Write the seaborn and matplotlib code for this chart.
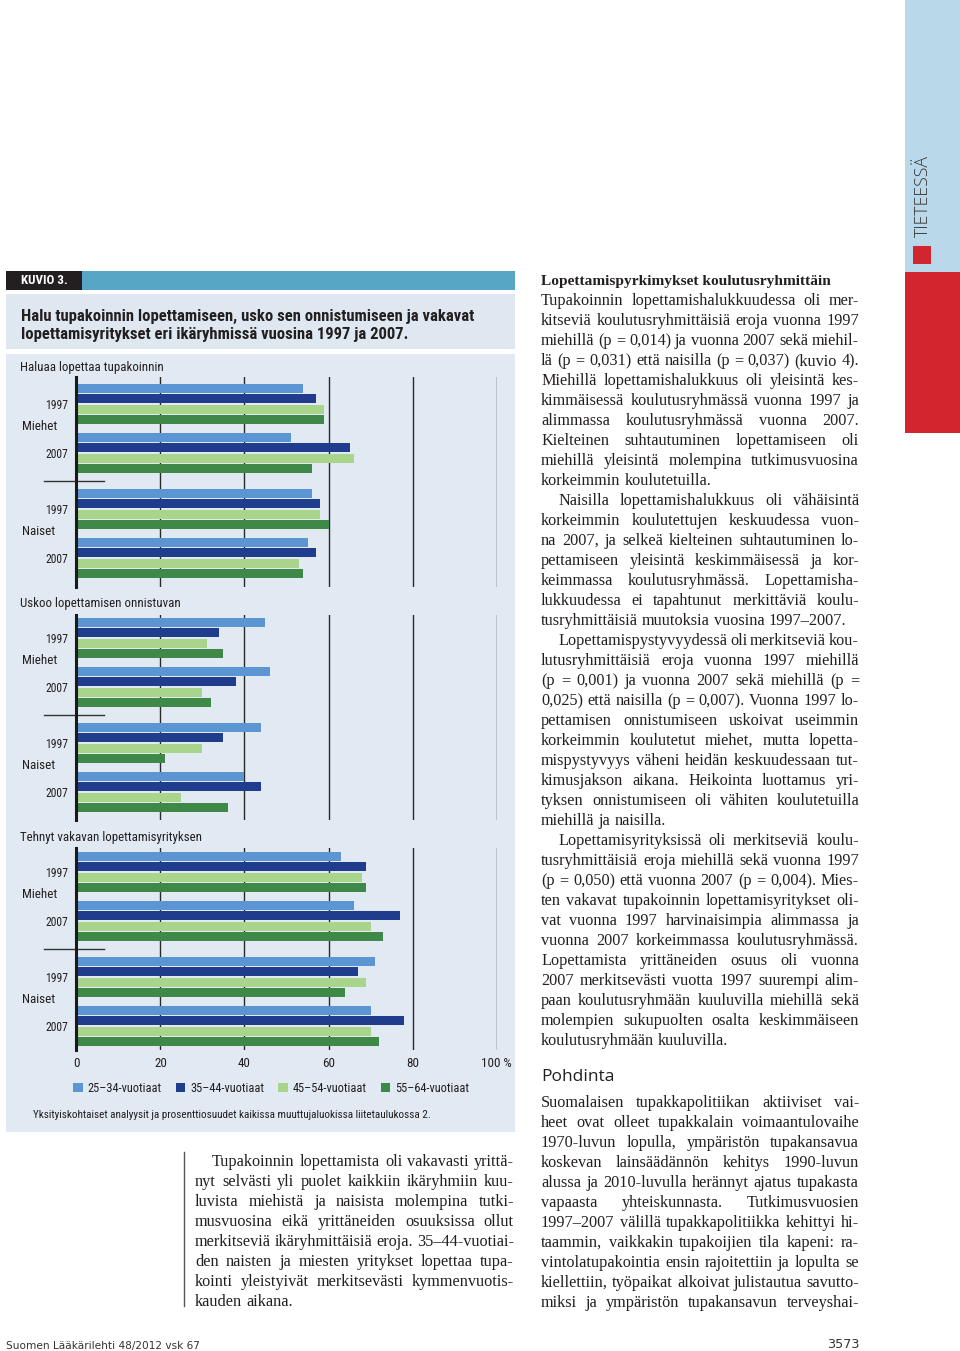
import numpy as np
import pandas as pd
import seaborn as sns
import matplotlib
matplotlib.use('Agg')
import matplotlib.pyplot as plt
from matplotlib.patches import Rectangle
from matplotlib import font_manager

# ---- data (percent) ----
age_groups = ['25–34-vuotiaat', '35–44-vuotiaat', '45–54-vuotiaat', '55–64-vuotiaat']
sexes = ['Miehet', 'Miehet', 'Naiset', 'Naiset']
years = ['1997', '2007', '1997', '2007']
panel_titles = ['Haluaa lopettaa tupakoinnin', 'Uskoo lopettamisen onnistuvan',
                'Tehnyt vakavan lopettamisyrityksen']
# rows: Miehet 1997, Miehet 2007, Naiset 1997, Naiset 2007 ; columns: age groups
haluaa = [[54, 57, 59, 59],
          [51, 65, 66, 56],
          [56, 58, 58, 60],
          [55, 57, 53, 54]]
uskoo = [[45, 34, 31, 35],
         [46, 38, 30, 32],
         [44, 35, 30, 21],
         [40, 44, 25, 36]]
yrittanyt = [[63, 69, 68, 69],
             [66, 77, 70, 73],
             [71, 67, 69, 64],
             [70, 78, 70, 72]]
x_ticks = [0, 20, 40, 60, 80, 100]
x_ticklabels = ['0', '20', '40', '60', '80', '100 %']

colors = ['#5b96d2', '#1f3d8c', '#a9d48c', '#3e8947']

W, H = 960, 1351
TXT = '#231f20'
SERIF = 'Liberation Serif'

# pick the narrowest sans that is installed
ttf = font_manager.fontManager.ttflist


def has(name, stretch=None):
    return any(f.name == name and (stretch is None or 'condensed' in str(f.stretch)) for f in ttf)


if has('Liberation Sans Narrow'):
    COND, STRETCH = 'Liberation Sans Narrow', 'normal'
elif has('Roboto Condensed'):
    COND, STRETCH = 'Roboto Condensed', 'normal'
elif has('Roboto', 'condensed'):
    COND, STRETCH = 'Roboto', 'condensed'
elif has('DejaVu Sans', 'condensed'):
    COND, STRETCH = 'DejaVu Sans', 'condensed'
else:
    COND, STRETCH = 'Lato', 'normal'

plt.rcParams['font.family'] = [COND, 'DejaVu Sans']
plt.rcParams['font.stretch'] = STRETCH
CK = dict(family=[COND, 'DejaVu Sans'], fontstretch=STRETCH)
SK = dict(family=[SERIF, 'DejaVu Serif'], fontstretch='normal')

fig = plt.figure(figsize=(W / 100, H / 100), dpi=100)
fig.patch.set_facecolor('white')
renderer = fig.canvas.get_renderer()


def fx(x):
    return x / W


def fy(y):
    return 1 - y / H


def fit(text, target, **kw):
    # font size (pt) that makes text about target px wide
    t = fig.text(0, 0, text, fontsize=10, **kw)
    w = t.get_window_extent(renderer).width
    t.remove()
    return 10 * target / w


def box(x0, y0, x1, y1, color):
    fig.add_artist(Rectangle((fx(x0), fy(y1)), (x1 - x0) / W, (y1 - y0) / H,
                             transform=fig.transFigure, color=color, lw=0, zorder=0))


S_title = fit('Halu tupakoinnin lopettamiseen, usko sen onnistumiseen ja vakavat', 451,
              fontweight='bold', **CK)
S_kuvio = fit('KUVIO 3.', 47, fontweight='bold', **CK)
S_lab = fit('Haluaa lopettaa tupakoinnin', 143, **CK)
S_year = fit('1997', 23, **CK)
S_sex = fit('Miehet', 35, **CK)
S_tick = fit('100 %', 30, **CK)
S_leg = fit('25–34-vuotiaat', 74, **CK)
footnote = 'Yksityiskohtaiset analyysit ja prosenttiosuudet kaikissa muuttujaluokissa liitetaulukossa 2.'
S_note = fit(footnote, 393, **CK)
S_body = fit('korkeimmin koulutetuilla.', 170, **SK)
S_head = fit('Lopettamispyrkimykset koulutusryhmittäin', 290, fontweight='bold', **SK)
PK = dict(family=['Open Sans', 'DejaVu Sans'], fontstretch='normal')
S_pohd = fit('Pohdinta', 73, **PK)
FK = dict(family=['DejaVu Sans'], fontstretch='normal')
S_foot = fit('Suomen Lääkärilehti 48/2012 vsk 67', 192, **FK)
S_page = fit('3573', 32, **FK)
S_tiet = fit('TIETEESSÄ', 82, fontweight='light', **PK)

# page decoration
box(905, 0, 960, 272, '#b9d8e9')
box(905, 272, 960, 433, '#d2262e')
box(913, 246, 931, 264, '#d2262e')
fig.text(fx(923), fy(196), 'TIETEESSÄ', rotation=90, ha='center', va='center',
         fontweight='light', fontsize=S_tiet, color='#333333', **PK)

box(6, 271, 82, 290, TXT)
box(82, 271, 515, 290, '#58a6c6')
box(6, 294, 515, 349, '#dfe8f1')
box(6, 354, 515, 1132, '#e1e9f2')

fig.text(fx(21), fy(281), 'KUVIO 3.', color='white', fontsize=S_kuvio, fontweight='bold',
         va='center', **CK)
fig.text(fx(21), fy(316), 'Halu tupakoinnin lopettamiseen, usko sen onnistumiseen ja vakavat',
         fontsize=S_title, fontweight='bold', va='center', color=TXT, **CK)
fig.text(fx(21), fy(335), 'lopettamisyritykset eri ikäryhmissä vuosina 1997 ja 2007.',
         fontsize=S_title, fontweight='bold', va='center', color=TXT, **CK)

# ---- chart panels ----
X0, XW = 76.3, 420.4
PITCH = 49.0
sex_gap = 7 / PITCH
panels = [(haluaa, 367, 377, 404, 587),
          (uskoo, 604, 615, 638, 820),
          (yrittanyt, 837, 848, 872, 1050)]

for p, (vals, title_y, top, c0, bottom) in enumerate(panels):
    rows = []
    for i in range(len(sexes)):
        pos = i + sex_gap * (sexes[i] == 'Naiset')
        for j, age in enumerate(age_groups):
            rows.append({'pos': pos, 'age': age, 'value': vals[i][j]})
    df = pd.DataFrame(rows)
    positions = sorted(df['pos'].unique())

    ax = fig.add_axes([fx(X0), fy(bottom), XW / W, (bottom - top) / H])
    ax.set_facecolor('none')
    last = p == len(panels) - 1
    sns.barplot(data=df, x='value', y='pos', hue='age', hue_order=age_groups,
                orient='y', native_scale=True, palette=colors, saturation=1,
                width=42 / PITCH, gap=0.14, errorbar=None, linewidth=0,
                legend=last, ax=ax)
    ax.set_xlim(0, 100)
    ax.set_ylim((bottom - c0) / PITCH, (top - c0) / PITCH)
    ax.set_xlabel('')
    ax.set_ylabel('')
    for s in ['top', 'right', 'bottom']:
        ax.spines[s].set_visible(False)
    ax.spines['left'].set_linewidth(2.2)
    ax.spines['left'].set_color('#1a1a1a')
    ax.set_xticks(x_ticks)
    ax.xaxis.grid(True, color='#2a2a2a', lw=1.0)
    ax.set_axisbelow(True)
    ax.set_yticks(positions, years)
    ax.tick_params(axis='y', length=0, pad=6, labelsize=S_year, labelcolor=TXT)
    if last:
        ax.set_xticklabels(x_ticklabels)
        ax.tick_params(axis='x', length=0, pad=5, labelsize=S_tick, labelcolor=TXT)
    else:
        ax.tick_params(axis='x', length=0, labelbottom=False)

    ytr = ax.get_yaxis_transform()
    for k in (0, 2):
        ax.text((22 - X0) / XW, positions[k] + 0.45, sexes[k], transform=ytr,
                ha='left', va='center', fontsize=S_sex, color=TXT, **CK)
    sep = (positions[1] + positions[2]) / 2
    ax.plot([(44 - X0) / XW, (104 - X0) / XW], [sep, sep], transform=ytr,
            color='#333333', lw=1.0, clip_on=False)

    fig.text(fx(20), fy(title_y), panel_titles[p], fontsize=S_lab, va='center',
             color=TXT, **CK)

    if last:
        em = S_leg * 100 / 72
        handles, labels = ax.get_legend_handles_labels()
        ax.legend(handles, labels, loc='center left', bbox_to_anchor=(fx(73), fy(1088)),
                  bbox_transform=fig.transFigure, ncol=4, frameon=False,
                  handlelength=9.5 / em, handleheight=9.5 / em, handletextpad=5 / em,
                  columnspacing=14 / em, borderpad=0, borderaxespad=0, fontsize=S_leg)
        for t in ax.get_legend().get_texts():
            t.set_color(TXT)

fig.text(fx(33), fy(1115), footnote, fontsize=S_note, va='center', color=TXT, **CK)


# ---- body text, justified ----
def block(paragraphs, x0, x1, y0, dy, size, indent_first=(), indent=17, justify_last=False):
    k = 0
    em = size * 100 / 72
    for pi, lines in enumerate(paragraphs):
        for li, line in enumerate(lines):
            y = y0 + k * dy
            start = x0 + (indent if (li == 0 and pi in indent_first) else 0)
            words = line.split(' ')
            ts = [fig.text(0, fy(y), w, fontsize=size, color=TXT,
                           va='baseline', ha='left', **SK) for w in words]
            ws = [t.get_window_extent(renderer).width for t in ts]
            is_last = li == len(lines) - 1 and not justify_last
            if is_last or len(words) == 1:
                sp = em * 0.25
            else:
                sp = max((x1 - start - sum(ws)) / (len(words) - 1), em * 0.12)
            x = start
            for t, w in zip(ts, ws):
                t.set_x(fx(x))
                x += w + sp
            k += 1


fig.text(fx(541), fy(285), 'Lopettamispyrkimykset koulutusryhmittäin',
         fontweight='bold', fontsize=S_head, va='baseline', color=TXT, **SK)

right_paras = [
    ['Tupakoinnin lopettamishalukkuudessa oli mer-',
     'kitseviä koulutusryhmittäisiä eroja vuonna 1997',
     'miehillä (p = 0,014) ja vuonna 2007 sekä miehil-',
     'lä (p = 0,031) että naisilla (p = 0,037) (kuvio 4).',
     'Miehillä lopettamishalukkuus oli yleisintä kes-',
     'kimmäisessä koulutusryhmässä vuonna 1997 ja',
     'alimmassa koulutusryhmässä vuonna 2007.',
     'Kielteinen suhtautuminen lopettamiseen oli',
     'miehillä yleisintä molempina tutkimusvuosina',
     'korkeimmin koulutetuilla.'],
    ['Naisilla lopettamishalukkuus oli vähäisintä',
     'korkeimmin koulutettujen keskuudessa vuon-',
     'na 2007, ja selkeä kielteinen suhtautuminen lo-',
     'pettamiseen yleisintä keskimmäisessä ja kor-',
     'keimmassa koulutusryhmässä. Lopettamisha-',
     'lukkuudessa ei tapahtunut merkittäviä koulu-',
     'tusryhmittäisiä muutoksia vuosina 1997–2007.'],
    ['Lopettamispystyvyydessä oli merkitseviä kou-',
     'lutusryhmittäisiä eroja vuonna 1997 miehillä',
     '(p = 0,001) ja vuonna 2007 sekä miehillä (p =',
     '0,025) että naisilla (p = 0,007). Vuonna 1997 lo-',
     'pettamisen onnistumiseen uskoivat useimmin',
     'korkeimmin koulutetut miehet, mutta lopetta-',
     'mispystyvyys väheni heidän keskuudessaan tut-',
     'kimusjakson aikana. Heikointa luottamus yri-',
     'tyksen onnistumiseen oli vähiten koulutetuilla',
     'miehillä ja naisilla.'],
    ['Lopettamisyrityksissä oli merkitseviä koulu-',
     'tusryhmittäisiä eroja miehillä sekä vuonna 1997',
     '(p = 0,050) että vuonna 2007 (p = 0,004). Mies-',
     'ten vakavat tupakoinnin lopettamisyritykset oli-',
     'vat vuonna 1997 harvinaisimpia alimmassa ja',
     'vuonna 2007 korkeimmassa koulutusryhmässä.',
     'Lopettamista yrittäneiden osuus oli vuonna',
     '2007 merkitsevästi vuotta 1997 suurempi alim-',
     'paan koulutusryhmään kuuluvilla miehillä sekä',
     'molempien sukupuolten osalta keskimmäiseen',
     'koulutusryhmään kuuluvilla.'],
]
block(right_paras, 541, 859, 305, 20, S_body, indent_first=(1, 2, 3))

fig.text(fx(541), fy(1081), 'Pohdinta', fontsize=S_pohd, va='baseline', color=TXT, **PK)
pohdinta = [[
    'Suomalaisen tupakkapolitiikan aktiiviset vai-',
    'heet ovat olleet tupakkalain voimaantulovaihe',
    '1970-luvun lopulla, ympäristön tupakansavua',
    'koskevan lainsäädännön kehitys 1990-luvun',
    'alussa ja 2010-luvulla herännyt ajatus tupakasta',
    'vapaasta yhteiskunnasta. Tutkimusvuosien',
    '1997–2007 välillä tupakkapolitiikka kehittyi hi-',
    'taammin, vaikkakin tupakoijien tila kapeni: ra-',
    'vintolatupakointia ensin rajoitettiin ja lopulta se',
    'kiellettiin, työpaikat alkoivat julistautua savutto-',
    'miksi ja ympäristön tupakansavun terveyshai-']]
# the paragraph runs on to the next page, so every line is justified
block(pohdinta, 541, 859, 1107, 20, S_body, justify_last=True)

left_para = [[
    'Tupakoinnin lopettamista oli vakavasti yrittä-',
    'nyt selvästi yli puolet kaikkiin ikäryhmiin kuu-',
    'luvista miehistä ja naisista molempina tutki-',
    'musvuosina eikä yrittäneiden osuuksissa ollut',
    'merkitseviä ikäryhmittäisiä eroja. 35–44-vuotiai-',
    'den naisten ja miesten yritykset lopettaa tupa-',
    'kointi yleistyivät merkitsevästi kymmenvuotis-',
    'kauden aikana.']]
block(left_para, 195, 514, 1166, 20, S_body, indent_first=(0,))
fig.add_artist(plt.Line2D([fx(184), fx(184)], [fy(1152), fy(1306)],
                          transform=fig.transFigure, color='#555555', lw=1.0))

fig.text(fx(6), fy(1346), 'Suomen Lääkärilehti 48/2012 vsk 67', fontsize=S_foot,
         va='center', color='#333333', **FK)
fig.text(fx(860), fy(1345), '3573', fontsize=S_page, va='center', ha='right',
         color='#333333', **FK)

fig.savefig('out.png', dpi=100, facecolor='white')
